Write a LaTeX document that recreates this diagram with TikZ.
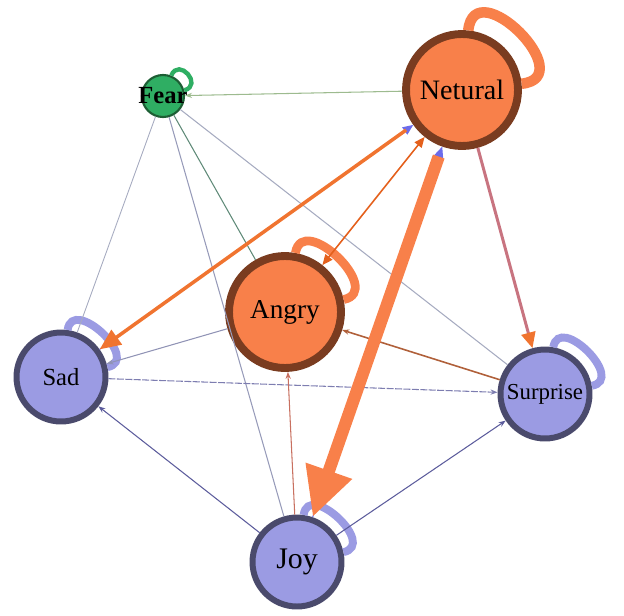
\documentclass[tikz,border=0pt]{standalone}
\usepackage{fontspec}
\setmainfont{Liberation Serif}
\usepackage{xcolor}
\usepackage{tikz}
\usetikzlibrary{arrows.meta}
\definecolor{orangefill}{HTML}{F8804A}
\definecolor{brownline}{HTML}{7A3C20}
\definecolor{purplefill}{HTML}{9B9BE3}
\definecolor{slateline}{HTML}{4A4A6C}
\definecolor{greenfill}{HTML}{2FAE63}
\definecolor{greenline}{HTML}{1D5E34}
\definecolor{orangeedge}{HTML}{F07430}
\definecolor{orangedark}{HTML}{E4601C}
\definecolor{mauveedge}{HTML}{C87480}
\definecolor{fearnet}{HTML}{9DBB8F}
\definecolor{greyedge}{HTML}{A6ABC0}
\definecolor{fearang}{HTML}{5F8A78}
\definecolor{joyline}{HTML}{5C5C9C}
\definecolor{brownedge}{HTML}{B0603A}
\definecolor{joyang}{HTML}{C87060}
\tikzstyle{orangenode} = [circle, fill=orangefill, draw=brownline, line width=4.5pt,
minimum size=2.24cm, inner sep=0pt]
\tikzstyle{purplenode} = [circle, fill=purplefill, draw=slateline, line width=3.4pt,
minimum size=1.78cm, inner sep=0pt]
\tikzstyle{greennode} = [circle, fill=greenfill, draw=greenline, line width=1.2pt,
minimum size=0.84cm, inner sep=0pt, font=\bfseries\fontsize{14}{16}\selectfont]
\tikzstyle{selfloop} = [line cap=butt]
\tikzstyle{thinedge} = [line width=0.6pt, -{Stealth[length=4pt,width=3pt]}]
\begin{document}
\begin{tikzpicture}[x=0.02cm, y=-0.02cm]
        \useasboundingbox (0,0) rectangle (624,615);
        \node [greennode] (fear) at (163,96) {\makebox[0pt]{Fear}};
        \node [orangenode, font=\fontsize{16}{18}\selectfont] (netural) at (462,90) {Netural};
        \node [orangenode, font=\fontsize{15.5}{18}\selectfont] (angry) at (285,312) {Angry};
        \node [purplenode, font=\fontsize{14}{16}\selectfont] (sad) at (61,377) {Sad};
        \node [purplenode, font=\fontsize{13}{15}\selectfont] (surprise) at (545,394) {Surprise};
        \node [purplenode, font=\fontsize{17}{19}\selectfont] (joy) at (297,562) {Joy};

        \draw [selfloop, greenfill, line width=2.5pt] (fear) to[out=68, in=15, distance=0.4cm] (fear);
        \draw [selfloop, orangefill, line width=6pt] (netural) to[out=84, in=6, distance=1.2cm] (netural);
        \draw [selfloop, orangefill, line width=5pt] (angry) to[out=80, in=12, distance=0.85cm] (angry);
        \draw [selfloop, purplefill, line width=4.5pt] (sad) to[out=82, in=12, distance=0.7cm] (sad);
        \draw [selfloop, purplefill, line width=4.5pt] (surprise) to[out=80, in=10, distance=0.7cm] (surprise);
        \draw [selfloop, purplefill, line width=4.5pt] (joy) to[out=82, in=12, distance=0.7cm] (joy);

        \draw [thinedge, fearnet] (netural) -- (fear);
        \draw [line width=0.5pt, greyedge] (fear) -- (sad);
        \draw [line width=0.6pt, fearang] (fear) -- (angry);
        \draw [line width=0.6pt, greyedge!80!joyline] (fear) -- (joy);
        \draw [line width=0.6pt, greyedge] (fear) -- (surprise);
        \draw [thinedge, greyedge!70!joyline] (angry) -- (sad);
        \draw [thinedge, joyline!80, dash pattern=on 4pt off 0.8pt] (sad) -- (surprise);
        \draw [thinedge, joyline] (joy) -- (sad);
        \draw [thinedge, joyline] (joy) -- (surprise);
        \draw [thinedge, brownedge, line width=0.9pt] (surprise) -- (angry);
        \draw [thinedge, joyang] (joy) -- (angry);

        \draw [thinedge, purplefill!70!blue, -{Triangle[length=6pt,width=5pt]}] (sad) -- (netural);
        \draw [thinedge, purplefill!70!blue, -{Triangle[length=7pt,width=6pt]}] (joy) -- (netural);
        \draw [orangeedge, line width=2pt, shorten <=5pt, -{Triangle[length=12pt,width=10pt]}] (netural) -- (sad);
        \draw [orangedark, line width=0.9pt, {Triangle[length=6pt,width=5pt]}-{Triangle[length=6pt,width=5pt]}] (netural) -- (angry);
        \draw [mauveedge, line width=1.7pt, -{Triangle[length=9pt,width=8pt,color=orangeedge]}] (netural) -- (surprise);
        \draw [orangefill, line width=7pt, shorten <=6pt, -{Triangle[length=28pt,width=26pt]}] (netural) -- (joy);
    \end{tikzpicture}
\end{document}
